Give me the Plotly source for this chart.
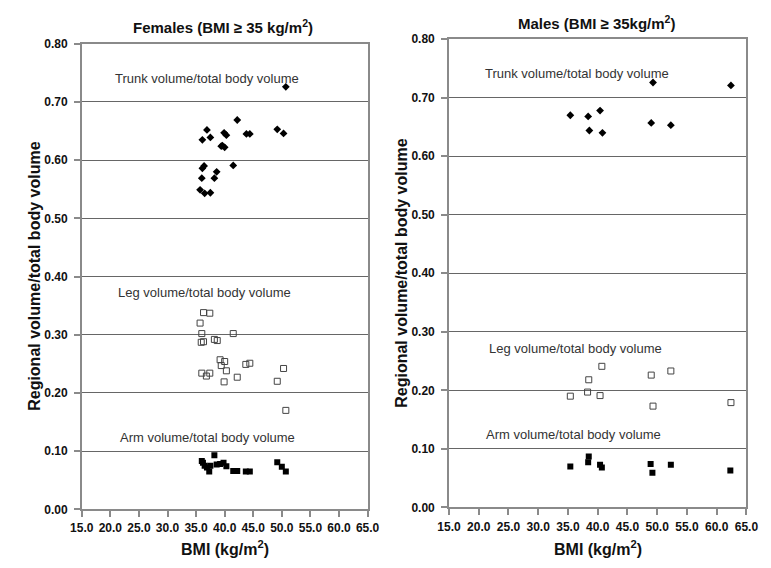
import plotly.graph_objects as go

# ---------------- data ----------------
f_trunk_bmi = [36.9, 36.1, 37.5, 42.2, 39.9, 40.3, 43.8, 44.4, 49.2, 50.3, 39.4, 40.0, 39.6,
               41.5, 36.1, 36.4, 38.6, 36.0, 38.2, 35.7, 36.5, 37.5, 50.7]
f_trunk_val = [0.652, 0.635, 0.639, 0.669, 0.647, 0.643, 0.645, 0.645, 0.653, 0.646, 0.624, 0.622, 0.625,
               0.591, 0.586, 0.590, 0.580, 0.569, 0.569, 0.549, 0.543, 0.544, 0.726]

f_leg_bmi = [36.3, 37.4, 35.7, 36.0, 41.5, 35.9, 36.3, 38.2, 38.7, 39.2, 40.0, 39.4, 40.3,
             43.7, 44.4, 50.3, 36.0, 36.8, 37.4, 42.2, 39.9, 49.2, 50.7]
f_leg_val = [0.338, 0.337, 0.320, 0.302, 0.302, 0.287, 0.288, 0.292, 0.290, 0.257, 0.254, 0.247, 0.238,
             0.249, 0.251, 0.242, 0.234, 0.229, 0.234, 0.227, 0.219, 0.220, 0.170]

f_arm_bmi = [36.0, 36.2, 36.5, 36.9, 37.3, 37.5, 38.2, 38.6, 39.2, 39.8, 40.3, 41.5, 42.2,
             43.7, 44.4, 49.2, 50.0, 50.7]
f_arm_val = [0.083, 0.080, 0.075, 0.072, 0.065, 0.075, 0.093, 0.077, 0.078, 0.080, 0.074, 0.066, 0.066,
             0.065, 0.065, 0.081, 0.073, 0.065]

m_trunk_bmi = [35.4, 38.4, 40.4, 38.6, 40.8, 49.3, 49.0, 52.3, 62.4]
m_trunk_val = [0.670, 0.668, 0.678, 0.644, 0.640, 0.726, 0.657, 0.653, 0.721]

m_leg_bmi = [35.4, 38.3, 38.5, 40.7, 40.4, 49.0, 49.3, 52.3, 62.4]
m_leg_val = [0.190, 0.197, 0.218, 0.241, 0.191, 0.226, 0.173, 0.233, 0.179]

m_arm_bmi = [35.4, 38.4, 38.5, 40.4, 40.7, 48.9, 49.2, 52.3, 62.3]
m_arm_val = [0.070, 0.077, 0.087, 0.073, 0.068, 0.074, 0.059, 0.073, 0.063]

x_ticks = [15, 20, 25, 30, 35, 40, 45, 50, 55, 60, 65]
y_ticks = [0.0, 0.1, 0.2, 0.3, 0.4, 0.5, 0.6, 0.7, 0.8]

panel_titles = ["Females (BMI ≥ 35 kg/m<sup>2</sup>)", "Males (BMI ≥ 35kg/m<sup>2</sup>)"]
region_labels = ["Trunk volume/total body volume", "Leg volume/total body volume",
                 "Arm volume/total body volume"]
x_title = "BMI (kg/m<sup>2</sup>)"
y_title = "Regional volume/total body volume"

# ---------------- figure ----------------
SANS = "Liberation Sans, Arial, sans-serif"

trunk_marker = dict(symbol="diamond", size=6, color="black")
leg_marker = dict(symbol="square-open", size=6, color="#444444", line=dict(width=1, color="#444444"))
arm_marker = dict(symbol="square", size=6, color="black")

fig = go.Figure()
for xs, ys, mk, xa, ya in [
    (f_trunk_bmi, f_trunk_val, trunk_marker, "x", "y"),
    (f_leg_bmi, f_leg_val, leg_marker, "x", "y"),
    (f_arm_bmi, f_arm_val, arm_marker, "x", "y"),
    (m_trunk_bmi, m_trunk_val, trunk_marker, "x2", "y2"),
    (m_leg_bmi, m_leg_val, leg_marker, "x2", "y2"),
    (m_arm_bmi, m_arm_val, arm_marker, "x2", "y2"),
]:
    fig.add_trace(go.Scatter(x=xs, y=ys, mode="markers", marker=mk, xaxis=xa, yaxis=ya,
                             showlegend=False, hoverinfo="x+y"))

W, H = 771, 568
gray = "#8a8a8a"
tickfont = dict(family=SANS, size=12, color="#111111", weight="bold")

def xaxis(dom, anchor):
    return dict(domain=dom, anchor=anchor, range=[15, 65], tickvals=x_ticks,
                ticktext=[f"{v:.1f}" for v in x_ticks], ticks="outside", ticklen=6,
                tickcolor=gray, tickwidth=1.5, showline=True, linecolor=gray, linewidth=1.5,
                mirror=True, showgrid=False, zeroline=False, tickfont=tickfont, fixedrange=True,
                ticklabelstandoff=1)

def yaxis(dom, anchor):
    return dict(domain=dom, anchor=anchor, range=[0, 0.8], tickvals=y_ticks,
                ticktext=[f"{v:.2f}" for v in y_ticks], ticks="outside", ticklen=6,
                tickcolor=gray, tickwidth=1.5, showline=True, linecolor=gray, linewidth=1.5,
                mirror=True, showgrid=True, gridcolor="#666666", gridwidth=1.3, zeroline=False,
                tickfont=tickfont, fixedrange=True, ticklabelstandoff=4)

Lx = [72 / W, 367 / W]
Ly = [1 - 515 / H, 1 - 37.7 / H]
Rx = [451 / W, 758 / W]
Ry = [1 - 513 / H, 1 - 33 / H]

annotations = []
title_font = dict(family=SANS, size=15, color="#111111", weight="bold")
annotations.append(dict(text=panel_titles[0], x=218 / W, y=1 - 20 / H, xref="paper", yref="paper",
                        xanchor="center", yanchor="middle", showarrow=False, font=title_font))
annotations.append(dict(text=panel_titles[1], x=603 / W, y=1 - 16 / H, xref="paper", yref="paper",
                        xanchor="center", yanchor="middle", showarrow=False, font=title_font))
# x titles
for cx in [(Lx[0] + Lx[1]) / 2, (Rx[0] + Rx[1]) / 2]:
    annotations.append(dict(text=x_title, x=cx, y=1 - 555 / H, xref="paper", yref="paper",
                            xanchor="center", yanchor="middle", showarrow=False,
                            font=dict(family=SANS, size=16, color="#111111", weight="bold")))
# y titles
for cx, dom in [(23 / W, Ly), (402 / W, Ry)]:
    annotations.append(dict(text=y_title, x=cx, y=(dom[0] + dom[1]) / 2, xref="paper", yref="paper",
                            xanchor="center", yanchor="middle", textangle=-90, showarrow=False,
                            font=dict(family=SANS, size=16, color="#111111", weight="bold")))
# region labels (data coords)
lab_font = dict(family=SANS, size=13, color="#333333")
for (bx, by), txt in zip([(36.9, 0.741), (36.4, 0.372), (37.0, 0.123)], region_labels):
    annotations.append(dict(text=txt, x=bx, y=by, xref="x", yref="y", xanchor="center",
                            showarrow=False, font=lab_font))
for (bx, by), txt in zip([(36.5, 0.742), (36.3, 0.272), (36.0, 0.125)], region_labels):
    annotations.append(dict(text=txt, x=bx, y=by, xref="x2", yref="y2", xanchor="center",
                            showarrow=False, font=lab_font))

fig.update_layout(
    width=W, height=H, margin=dict(l=0, r=0, t=0, b=0),
    paper_bgcolor="white", plot_bgcolor="white",
    xaxis=xaxis(Lx, "y"), yaxis=yaxis(Ly, "x"),
    xaxis2=xaxis(Rx, "y2"), yaxis2=yaxis(Ry, "x2"),
    annotations=annotations,
)

fig.write_html("out.html")
